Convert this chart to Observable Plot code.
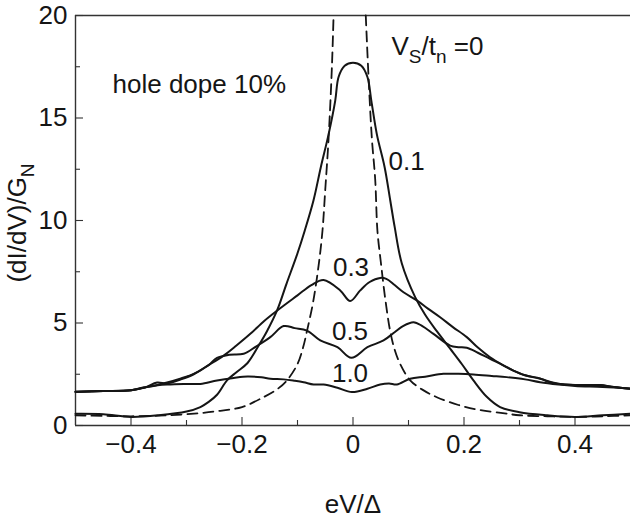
<!DOCTYPE html>
<html><head><meta charset="utf-8">
<script src="https://cdn.jsdelivr.net/npm/d3@7"></script>
<script src="https://cdn.jsdelivr.net/npm/@observablehq/plot@0.6"></script>
<style>body{margin:0;background:#fff} svg{display:block}</style>
</head><body><div id="chart"></div>
<script>
// ---- data: eV/Δ (x) vs (dI/dV)/G_N (y) ----
// V_S/t_n = 0 (dashed), two branches of the diverging peak
const vs0LeftX  = [-0.5,-0.45,-0.4,-0.35,-0.3,-0.25,-0.2,-0.16,-0.135,-0.119,-0.10,-0.09,-0.083,-0.072,-0.062,-0.055,-0.05,-0.044,-0.038,-0.035];
const vs0LeftG  = [0.5,0.47,0.45,0.48,0.55,0.68,0.9,1.4,1.8,2.2,3.0,3.8,4.6,6.0,7.8,9.5,11.5,14,17.5,20];
const vs0RightX = [0.023,0.028,0.034,0.040,0.044,0.05,0.058,0.067,0.075,0.085,0.103,0.125,0.151,0.19,0.229,0.27,0.3,0.35,0.4,0.45,0.5];
const vs0RightG = [20,17,14,12,9.5,8,6.2,4.6,3.7,3.0,2.2,1.75,1.38,1.0,0.75,0.6,0.5,0.45,0.42,0.45,0.5];

// V_S/t_n = 0.1
const vs01X = [-0.5,-0.45,-0.4,-0.35,-0.3,-0.275,-0.26,-0.245,-0.227,-0.21,-0.19,-0.17,-0.155,-0.137,-0.12,-0.1,-0.087,-0.071,-0.058,-0.044,-0.032,-0.026,-0.015,0,0.015,0.026,0.033,0.043,0.057,0.067,0.075,0.088,0.112,0.13,0.151,0.175,0.196,0.217,0.241,0.265,0.3,0.35,0.4,0.45,0.5];
const vs01G = [0.57,0.55,0.42,0.5,0.68,0.9,1.15,1.5,2.2,2.6,3.05,3.9,4.6,5.6,6.9,8.4,9.5,11.0,12.6,14.2,15.85,17.0,17.55,17.7,17.55,17.0,15.85,14.2,12.6,11.0,9.7,7.9,6.26,5.4,4.6,3.75,3.0,2.2,1.4,0.9,0.65,0.5,0.42,0.5,0.57];

// V_S/t_n = 0.3
const vs03X = [-0.5,-0.45,-0.4,-0.377,-0.365,-0.335,-0.31,-0.287,-0.26,-0.233,-0.21,-0.185,-0.16,-0.137,-0.1,-0.075,-0.053,-0.023,-0.005,0.013,0.03,0.049,0.06,0.075,0.091,0.115,0.135,0.157,0.18,0.205,0.225,0.247,0.27,0.289,0.31,0.337,0.373,0.4,0.445,0.47,0.5];
const vs03G = [1.65,1.68,1.72,1.85,1.9,2.1,2.3,2.52,2.95,3.41,3.9,4.47,5.1,5.6,6.35,6.85,7.1,6.59,6.07,6.59,7.0,7.2,7.15,6.85,6.5,6.1,5.7,5.28,4.8,4.31,3.8,3.33,2.95,2.68,2.45,2.28,2.02,1.98,1.97,1.88,1.79];

// V_S/t_n = 0.5
const vs05X = [-0.5,-0.45,-0.4,-0.375,-0.353,-0.335,-0.31,-0.287,-0.26,-0.245,-0.223,-0.197,-0.175,-0.149,-0.125,-0.105,-0.083,-0.059,-0.028,-0.003,0.026,0.055,0.075,0.09,0.109,0.125,0.145,0.175,0.19,0.205,0.225,0.247,0.27,0.289,0.31,0.337,0.35,0.373,0.4,0.43,0.445,0.47,0.5];
const vs05G = [1.65,1.68,1.72,1.85,2.1,2.05,2.25,2.5,2.95,3.3,3.45,3.5,3.85,4.31,4.85,4.75,4.63,4.15,3.82,3.3,3.82,4.15,4.55,4.85,5.04,4.85,4.47,3.9,3.82,3.79,3.55,3.25,2.95,2.68,2.45,2.3,2.15,2.02,1.97,1.95,1.97,1.88,1.79];

// V_S/t_n = 1.0
const vs10X = [-0.5,-0.45,-0.4,-0.365,-0.335,-0.305,-0.275,-0.245,-0.215,-0.19,-0.165,-0.149,-0.125,-0.105,-0.089,-0.071,-0.053,-0.028,-0.002,0.026,0.049,0.065,0.079,0.103,0.13,0.163,0.19,0.217,0.25,0.277,0.31,0.337,0.37,0.4,0.45,0.5];
const vs10G = [1.63,1.68,1.72,1.92,2.0,2.03,2.03,2.2,2.32,2.39,2.35,2.28,2.25,2.18,2.11,2.0,2.0,1.84,1.63,1.79,2.0,2.05,2.0,2.28,2.38,2.52,2.52,2.49,2.42,2.36,2.25,2.11,2.0,1.93,1.88,1.8];

// ticks
const xMajor = [-0.4,-0.2,0,0.2,0.4];
const xMinor = [-0.3,-0.1,0.1,0.3];
const yMajor = [0,5,10,15,20];
const yMinor = [2.5,7.5,12.5,17.5];

// annotations (text, anchor point in data units)
const noteDope = [{text: "hole dope 10%", v: -0.4333, g: 16.24}];
const notesStart = [
  {text: "V_{S}/t_{n} =0", v: 0.0694, g: 18.05},
  {text: "0.1", v: 0.064, g: 12.44}
];
const notesMiddle = [
  {text: "0.3", v: -0.0036, g: 7.27},
  {text: "0.5", v: -0.0054, g: 4.195},
  {text: "1.0", v: -0.0054, g: 2.1}
];

const rows = (xs, gs) => xs.map((v, i) => ({v, g: gs[i]}));

const W = 630, H = 520, mT = 15, mB = 95, mL = 75, mR = 0;
const frameW = W - mL - mR, frameH = H - mT - mB;
const ink = "#151515";
const FS = 26;
const fmt = d => d < 0 ? "\u2212" + Math.abs(d) : String(d);

const plot = Plot.plot({
  width: W, height: H,
  marginTop: mT, marginBottom: mB, marginLeft: mL, marginRight: mR,
  x: {domain: [-0.5, 0.5]},
  y: {domain: [0, 20]},
  style: {fontFamily: "'Liberation Sans', Arial, Helvetica, sans-serif", fontSize: FS + "px", color: ink, background: "#fff"},
  marks: [
    // frame (top, bottom, left)
    Plot.ruleY([0, 20], {stroke: "#333", strokeWidth: 1.4}),
    Plot.ruleX([-0.5], {stroke: "#333", strokeWidth: 1.4}),
    // inward ticks
    Plot.ruleX(xMajor, {insetTop: frameH - 8, stroke: "#333", strokeWidth: 1.1}),
    Plot.ruleX(xMinor, {insetTop: frameH - 5, stroke: "#333", strokeWidth: 1.1}),
    Plot.ruleY(yMajor, {insetRight: frameW - 8, stroke: "#333", strokeWidth: 1.1}),
    Plot.ruleY(yMinor, {insetRight: frameW - 5, stroke: "#333", strokeWidth: 1.1}),
    Plot.axisX({ticks: xMajor, tickSize: 0, tickPadding: 9.5, fontSize: FS, tickFormat: fmt, label: null}),
    Plot.axisY({ticks: yMajor, tickSize: 0, tickPadding: 8, fontSize: FS, tickFormat: fmt, label: null}),
    // curves
    Plot.line(rows(vs0LeftX, vs0LeftG), {x: "v", y: "g", stroke: ink, strokeWidth: 1.8, strokeDasharray: "10,6", curve: "catmull-rom"}),
    Plot.line(rows(vs0RightX, vs0RightG), {x: "v", y: "g", stroke: ink, strokeWidth: 1.8, strokeDasharray: "10,6", curve: "catmull-rom"}),
    Plot.line(rows(vs01X, vs01G), {x: "v", y: "g", stroke: ink, strokeWidth: 2, curve: "catmull-rom"}),
    Plot.line(rows(vs03X, vs03G), {x: "v", y: "g", stroke: ink, strokeWidth: 2, curve: "catmull-rom"}),
    Plot.line(rows(vs05X, vs05G), {x: "v", y: "g", stroke: ink, strokeWidth: 2, curve: "catmull-rom"}),
    Plot.line(rows(vs10X, vs10G), {x: "v", y: "g", stroke: ink, strokeWidth: 2, curve: "catmull-rom"}),
    // annotations
    Plot.text(noteDope, {x: "v", y: "g", text: "text", textAnchor: "start", fontSize: 26, lineAnchor: "bottom", fill: ink}),
    Plot.text(notesStart, {x: "v", y: "g", text: "text", textAnchor: "start", fontSize: FS, lineAnchor: "bottom", fill: ink}),
    Plot.text(notesMiddle, {x: "v", y: "g", text: "text", textAnchor: "middle", fontSize: FS, lineAnchor: "bottom", fill: ink}),
    // axis titles
    Plot.text(["eV/\u0394"], {frameAnchor: "bottom", dy: 87, lineAnchor: "bottom", fontSize: FS, fill: ink}),
    Plot.text(["(dI/dV)/G_{N}"], {frameAnchor: "left", dx: -55, rotate: -90, fontSize: FS, fill: ink})
  ]
});

// render subscripts written as _{...}
let yTitle = null;
d3.select(plot).selectAll("text").each(function () {
  const s = this.textContent;
  if (!s.includes("_{")) return;
  if (s.startsWith("(dI")) yTitle = this;
  const parts = s.split(/(_\{[^}]*\})/);
  this.textContent = "";
  let shifted = false;
  for (const p of parts) {
    if (!p) continue;
    const t = document.createElementNS("http://www.w3.org/2000/svg", "tspan");
    if (p.startsWith("_{")) {
      t.textContent = p.slice(2, -1);
      t.setAttribute("dy", "8");
      t.setAttribute("font-size", "19");
      shifted = true;
    } else {
      t.textContent = p;
      if (shifted) { t.setAttribute("dy", "-8"); shifted = false; }
    }
    this.appendChild(t);
  }
});

document.getElementById("chart").appendChild(plot);

// centre the rotated y title at (20, 223) as in the reference
if (yTitle) {
  const svgRect = plot.getBoundingClientRect();
  const r = yTitle.getBoundingClientRect();
  const cx = r.left - svgRect.left + r.width / 2;
  const cy = r.top - svgRect.top + r.height / 2;
  const tr = yTitle.getAttribute("transform") || "";
  yTitle.setAttribute("transform", `translate(${20 - cx},${223 - cy}) ${tr}`);
}
</script></body></html>
